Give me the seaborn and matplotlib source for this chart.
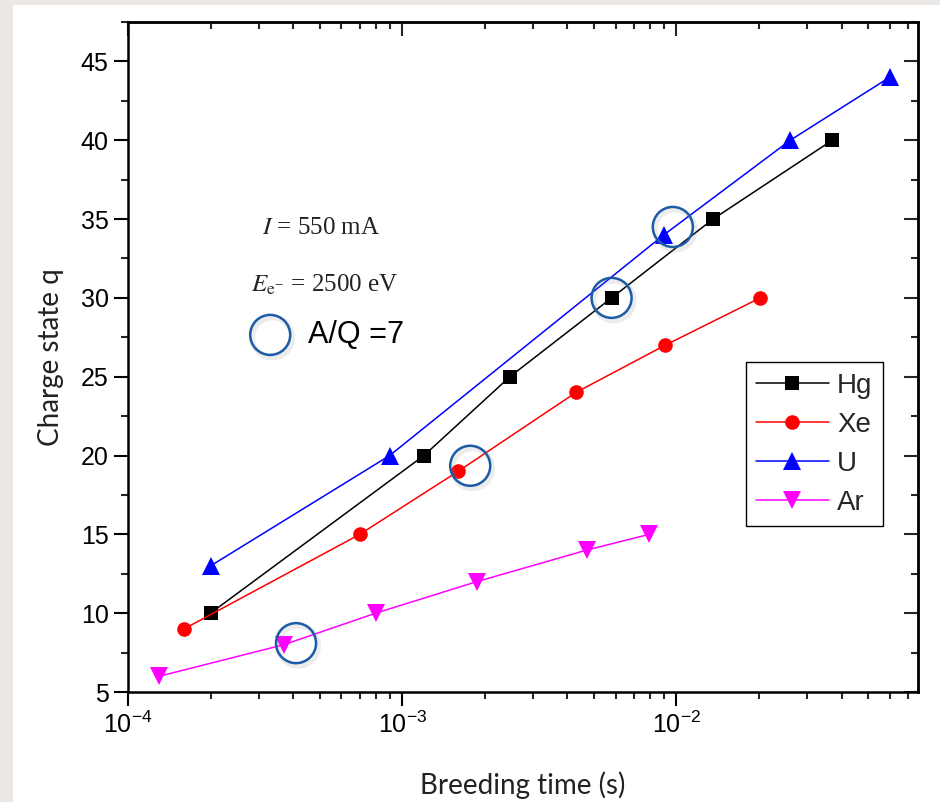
import matplotlib
matplotlib.use("Agg")
import matplotlib.pyplot as plt
import matplotlib.patheffects as pe
import seaborn as sns
from matplotlib.patches import Rectangle
from matplotlib.ticker import MultipleLocator, LogLocator, NullFormatter

# ---------------- data ----------------
hg_t = [2.0e-4, 1.2e-3, 2.47e-3, 5.8e-3, 1.36e-2, 3.7e-2]
hg_q = [10, 20, 25, 30, 35, 40]

xe_t = [1.6e-4, 7.0e-4, 1.6e-3, 4.3e-3, 9.1e-3, 2.02e-2]
xe_q = [9, 15, 19, 24, 27, 30]

u_t = [2.0e-4, 9.0e-4, 9.0e-3, 2.6e-2, 6.0e-2]
u_q = [13, 20, 34, 40, 44]

ar_t = [1.3e-4, 3.7e-4, 8.0e-4, 1.87e-3, 4.7e-3, 7.95e-3]
ar_q = [6, 8, 10, 12, 14, 15]

# A/Q = 7 highlighted positions
aq_t = [4.1e-4, 1.77e-3, 5.8e-3, 9.7e-3]
aq_q = [8.1, 19.35, 30.0, 34.5]

series_names = ["Hg", "Xe", "U", "Ar"]
series_colors = ["black", "#ff0000", "#0000ff", "#ff00ff"]
series_markers = ["s", "o", "^", "v"]

# ---------------- style ----------------
sns.set_theme(style="ticks")
plt.rcParams["font.family"] = ["Liberation Sans", "DejaVu Sans"]
plt.rcParams["axes.linewidth"] = 1.8
plt.rcParams["axes.unicode_minus"] = False

fig = plt.figure(figsize=(9.4, 8.02), dpi=100)
fig.patch.set_facecolor("#ebe8e5")
fig.add_artist(Rectangle((13 / 940, 0), 1, 797 / 802, transform=fig.transFigure,
                         facecolor="white", edgecolor="none", zorder=-10))

ax = fig.add_axes([128 / 940, 110 / 802, 790 / 940, 670 / 802])
ax.set_facecolor("white")

data = [(hg_t, hg_q), (xe_t, xe_q), (u_t, u_q), (ar_t, ar_q)]
msizes = [10, 10.5, 13, 13.5]
for (t, q), name, col, mk, ms in zip(data, series_names, series_colors,
                                      series_markers, msizes):
    sns.lineplot(x=t, y=q, ax=ax, color=col, marker=mk, markersize=ms,
                 markeredgewidth=0, linewidth=1.1, label=name, errorbar=None)

# highlight circles
shadow = [pe.SimpleLineShadow(offset=(1.5, -2), shadow_color="gray",
                              alpha=0.15, linewidth=4), pe.Normal()]
c1 = ax.scatter(aq_t, aq_q, s=830, facecolors="none", edgecolors="#1c5ca6",
                linewidths=1.8, zorder=5)
c2 = ax.scatter([0.18], [0.533], s=830, facecolors="none", edgecolors="#1c5ca6",
                linewidths=1.8, transform=ax.transAxes, zorder=5, clip_on=False)
c1.set_path_effects(shadow)
c2.set_path_effects(shadow)

# axes scales
ax.set_xscale("log")
ax.set_xlim(1e-4, 7.6e-2)
ax.set_ylim(5, 47.5)
ax.yaxis.set_major_locator(MultipleLocator(5))
ax.yaxis.set_minor_locator(MultipleLocator(2.5))
ax.xaxis.set_major_locator(LogLocator(base=10))
ax.xaxis.set_minor_locator(LogLocator(base=10, subs=range(2, 10)))
ax.xaxis.set_minor_formatter(NullFormatter())

for s in ax.spines.values():
    s.set_linewidth(1.8)
    s.set_color("black")

ax.tick_params(which="major", direction="out", length=10, width=1.5,
               labelsize=18, pad=4, top=False, right=False, colors="black")
ax.tick_params(which="minor", direction="out", length=5, width=1.5,
               top=False, right=False)

secx = ax.secondary_xaxis("top")
secx.xaxis.set_major_locator(LogLocator(base=10))
secx.xaxis.set_minor_locator(LogLocator(base=10, subs=range(2, 10)))
secx.xaxis.set_major_formatter(NullFormatter())
secx.xaxis.set_minor_formatter(NullFormatter())
secx.tick_params(which="major", direction="in", length=10, width=1.5)
secx.tick_params(which="minor", direction="in", length=5, width=1.5)
secx.spines["top"].set_linewidth(1.8)

secy = ax.secondary_yaxis("right")
secy.yaxis.set_major_locator(MultipleLocator(5))
secy.yaxis.set_minor_locator(MultipleLocator(2.5))
secy.yaxis.set_major_formatter(NullFormatter())
secy.tick_params(which="major", direction="in", length=10, width=1.5)
secy.tick_params(which="minor", direction="in", length=5, width=1.5)
secy.spines["right"].set_linewidth(1.8)

ax.set_xlabel("Breeding time (s)", fontfamily="Lato", fontsize=20,
              labelpad=24, color="#222222")
ax.set_ylabel("Charge state q", fontfamily="Lato", fontsize=20,
              labelpad=12, color="#222222")

# annotations
ax.text(0.2443, 0.6925, r"$I$ = 550 mA", transform=ax.transAxes,
        ha="center", va="center", fontfamily="Liberation Serif", fontsize=18,
        math_fontfamily="stix", color="#222222")
ax.text(0.249, 0.607, r"$E_{\mathrm{e}^{-}}$ = 2500 eV", transform=ax.transAxes,
        ha="center", va="center", fontfamily="Liberation Serif", fontsize=18,
        math_fontfamily="stix", color="#222222")
ax.text(0.2278, 0.5328, "A/Q =7", transform=ax.transAxes, ha="left",
        va="center", fontsize=22, color="black")

handles, labels = ax.get_legend_handles_labels()
leg = ax.legend(handles, labels, loc="upper left",
                bbox_to_anchor=(0.782, 0.4925), frameon=True, fancybox=False,
                edgecolor="black", framealpha=1, fontsize=20,
                handlelength=2.6, handletextpad=0.3, labelspacing=0.47,
                borderpad=0.38, borderaxespad=0)
leg.get_frame().set_linewidth(1.0)

fig.savefig("out.png", dpi=100, facecolor=fig.get_facecolor())
